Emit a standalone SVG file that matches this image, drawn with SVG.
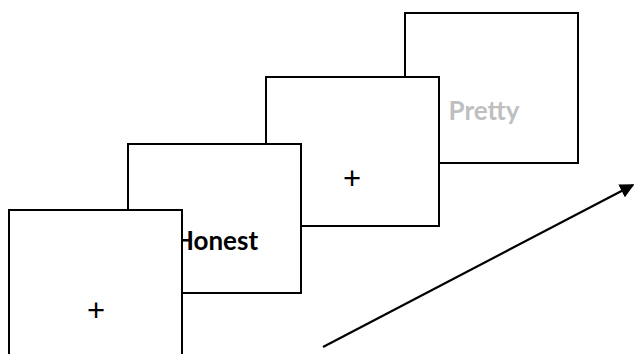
<svg xmlns="http://www.w3.org/2000/svg" width="634" height="354" viewBox="0 0 634 354">
  <defs>
    <style>
      .card { fill: #ffffff; stroke: #000000; stroke-width: 2; }
      .word { font-family: Lato, "Open Sans", sans-serif; font-weight: bold; font-size: 26px; text-anchor: middle; }
      .fix { font-family: "Liberation Sans", Arial, sans-serif; font-size: 31px; text-anchor: middle; fill: #000000; }
      .arrow { stroke: #000000; stroke-width: 2.2; fill: none; }
    </style>
    <marker id="head" viewBox="0 0 10 10" refX="9" refY="5" markerWidth="6.5" markerHeight="6.5" markerUnits="strokeWidth" orient="auto">
      <path d="M0,0 L10,5 L0,10 z" fill="#000000"/>
    </marker>
  </defs>

  <!-- cards drawn back to front -->
  <g id="card-pretty">
    <rect class="card" x="405" y="13" width="173" height="150"/>
    <text class="word" x="484" y="120" fill="#bfbfbf">Pretty</text>
  </g>
  <g id="card-fixation-2">
    <rect class="card" x="266" y="77" width="173" height="149"/>
    <text class="fix" x="352" y="189">+</text>
  </g>
  <g id="card-honest">
    <rect class="card" x="128" y="144" width="173" height="149"/>
    <text class="word" x="216" y="250" fill="#000000">Honest</text>
  </g>
  <g id="card-fixation-1">
    <rect class="card" x="9" y="210" width="173" height="160"/>
    <text class="fix" x="96" y="321">+</text>
  </g>

  <!-- time axis -->
  <g id="connectors">
    <line class="arrow" x1="323" y1="347" x2="633" y2="185" marker-end="url(#head)"/>
  </g>
</svg>
